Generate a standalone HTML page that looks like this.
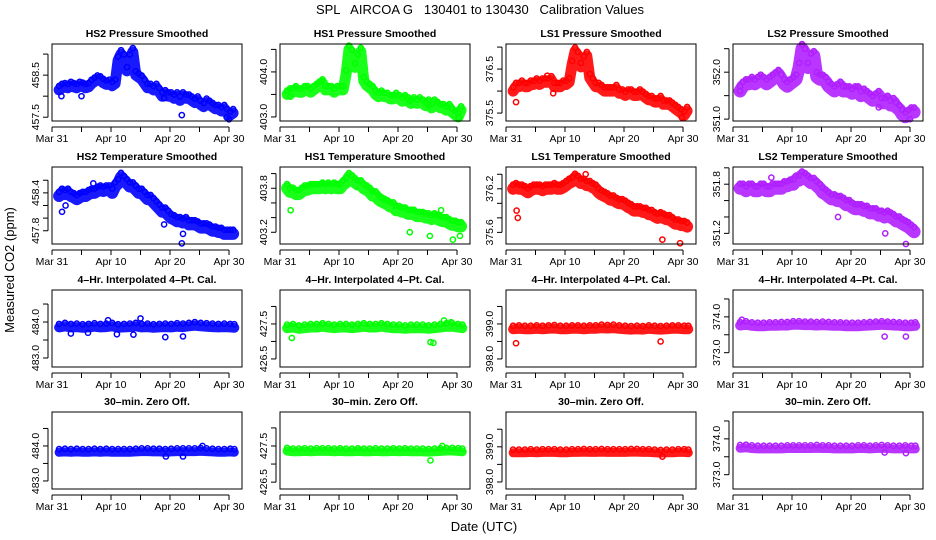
<!DOCTYPE html>
<html><head><meta charset="utf-8">
<style>
html,body{margin:0;padding:0;background:#fff;}
svg{display:block;font-family:"Liberation Sans",sans-serif;}
.pre{white-space:pre;}
</style></head>
<body>
<svg id="chart" width="936" height="540" viewBox="0 0 936 540" xmlns="http://www.w3.org/2000/svg">
<text class="pre" x="480" y="14" font-size="13" text-anchor="middle" xml:space="preserve">SPL   AIRCOA G   130401 to 130430   Calibration Values</text>
<text transform="translate(14,270) rotate(-90)" font-size="13" text-anchor="middle">Measured CO2 (ppm)</text>
<text x="484" y="531" font-size="13" text-anchor="middle">Date (UTC)</text>
</svg>
<script>
// ---- data ----
const days60 = [];
for (let i = 0; i < 60; i++) days60.push(1.2 + i * 0.5);
const days31 = [1.2,2.2,3.2,4.2,5.2,6.2,7.2,8.2,9.2,10.2,11.2,12.2,13.2,14.2,15.2,16.2,17.2,18.2,19.2,20.2,21.2,22.2,23.2,24.2,25.2,26.2,27.2,28.2,29.2,30.2,30.9];
const xTickDays = [0,5,10,15,20,25,30];
const xLabelDays = [0,10,20,30];
const xLabels = ["Mar 31","Apr 10","Apr 20","Apr 30"];

const hs2Pressure = [458.15,458.2,458.22,458.2,458.25,458.22,458.2,458.25,458.23,458.2,458.22,458.3,458.35,458.4,458.38,458.32,458.28,458.3,458.25,458.3,458.85,459.0,458.9,458.6,458.9,459.05,458.5,458.45,458.4,458.3,458.2,458.2,458.15,458.2,458.1,458.0,458.05,458.0,458.0,457.95,458.0,457.9,458.0,457.95,457.95,457.9,457.85,457.9,457.8,457.75,457.85,457.8,457.75,457.7,457.7,457.65,457.7,457.6,457.55,457.6];
const hs1Pressure = [403.5,403.55,403.55,403.6,403.55,403.55,403.6,403.6,403.55,403.6,403.65,403.7,403.75,403.6,403.6,403.6,403.55,403.6,403.6,403.6,403.95,404.5,404.4,404.1,404.3,404.45,403.8,403.7,403.65,403.6,403.5,403.45,403.5,403.45,403.45,403.4,403.4,403.45,403.4,403.35,403.4,403.35,403.3,403.35,403.3,403.35,403.3,403.25,403.3,403.2,403.3,403.25,403.2,403.2,403.15,403.2,403.1,403.05,403.0,403.15];
const ls1Pressure = [376.0,376.1,376.1,376.15,376.1,376.1,376.15,376.15,376.2,376.15,376.2,376.2,376.2,376.25,376.1,376.1,376.1,376.15,376.15,376.2,376.6,376.9,376.8,376.55,376.7,376.8,376.3,376.2,376.1,376.1,376.05,376.0,376.0,376.0,376.0,376.05,375.95,375.95,375.9,375.95,375.95,375.9,375.9,375.95,375.9,375.85,375.8,375.8,375.75,375.75,375.8,375.7,375.7,375.7,375.65,375.6,375.55,375.5,375.45,375.55];
const ls2Pressure = [351.6,351.7,351.75,351.75,351.8,351.75,351.8,351.85,351.8,351.75,351.8,351.85,351.9,351.95,351.85,351.75,351.7,351.75,351.8,351.85,352.1,352.5,352.4,352.1,352.3,352.35,351.9,351.85,351.85,351.8,351.7,351.65,351.6,351.65,351.7,351.6,351.6,351.6,351.55,351.6,351.6,351.5,351.55,351.5,351.45,351.4,351.45,351.5,351.35,351.35,351.4,351.3,351.35,351.25,351.2,351.1,351.05,351.1,351.15,351.15];
const hs2Temp = [458.35,458.4,458.38,458.4,458.35,458.33,458.3,458.33,458.35,458.35,458.38,458.4,458.4,458.43,458.45,458.43,458.45,458.45,458.4,458.5,458.55,458.65,458.6,458.55,458.5,458.5,458.45,458.4,458.4,458.35,458.3,458.3,458.25,458.2,458.15,458.1,458.1,458.05,458.0,457.98,457.95,457.95,457.93,457.95,457.9,457.9,457.9,457.88,457.85,457.85,457.85,457.83,457.8,457.8,457.78,457.78,457.75,457.75,457.75,457.75];
const hs1Temp = [403.8,403.75,403.75,403.72,403.72,403.75,403.78,403.78,403.8,403.8,403.8,403.8,403.82,403.8,403.82,403.8,403.82,403.8,403.8,403.85,403.88,403.95,403.92,403.88,403.85,403.85,403.8,403.78,403.75,403.7,403.7,403.65,403.62,403.6,403.58,403.55,403.55,403.5,403.5,403.48,403.48,403.45,403.45,403.45,403.42,403.42,403.42,403.4,403.4,403.38,403.4,403.38,403.36,403.35,403.35,403.32,403.3,403.3,403.28,403.28];
const ls1Temp = [376.2,376.22,376.2,376.2,376.18,376.15,376.18,376.2,376.2,376.2,376.18,376.2,376.2,376.2,376.22,376.2,376.2,376.22,376.25,376.28,376.3,376.35,376.32,376.28,376.28,376.25,376.25,376.22,376.2,376.15,376.12,376.1,376.08,376.05,376.05,376.02,376.0,376.0,375.98,375.95,375.93,375.9,375.9,375.9,375.88,375.88,375.85,375.85,375.82,375.8,375.82,375.8,375.78,375.78,375.75,375.72,375.72,375.7,375.7,375.68];
const ls2Temp = [351.75,351.75,351.72,351.75,351.75,351.72,351.72,351.75,351.75,351.72,351.72,351.75,351.75,351.75,351.75,351.78,351.78,351.8,351.8,351.85,351.85,351.9,351.88,351.85,351.82,351.82,351.78,351.75,351.7,351.68,351.65,351.62,351.62,351.6,351.6,351.58,351.55,351.55,351.52,351.5,351.5,351.5,351.48,351.48,351.45,351.45,351.45,351.42,351.42,351.4,351.42,351.4,351.38,351.35,351.35,351.32,351.3,351.28,351.25,351.22];

const hs2Interp = [483.85,483.88,483.85,483.86,483.84,483.85,483.87,483.85,483.86,483.88,483.84,483.85,483.86,483.88,483.85,483.86,483.84,483.85,483.86,483.85,483.87,483.86,483.88,483.9,483.88,483.87,483.86,483.85,483.86,483.85,483.84];
const hs1Interp = [427.38,427.4,427.36,427.38,427.4,427.4,427.42,427.4,427.38,427.4,427.4,427.38,427.4,427.42,427.4,427.4,427.42,427.4,427.38,427.38,427.36,427.38,427.38,427.38,427.36,427.38,427.4,427.42,427.42,427.4,427.38];
const ls1Interp = [398.85,398.86,398.85,398.85,398.86,398.85,398.86,398.87,398.85,398.85,398.86,398.86,398.85,398.86,398.86,398.88,398.87,398.88,398.86,398.85,398.84,398.85,398.84,398.86,398.85,398.84,398.85,398.86,398.86,398.85,398.85];
const ls2Interp = [373.76,373.78,373.75,373.74,373.74,373.75,373.75,373.76,373.76,373.78,373.78,373.77,373.77,373.76,373.77,373.76,373.75,373.75,373.74,373.74,373.74,373.75,373.76,373.77,373.78,373.77,373.76,373.75,373.74,373.74,373.75];
const hs2Zero = [483.82,483.83,483.82,483.83,483.82,483.82,483.83,483.82,483.83,483.82,483.82,483.82,483.82,483.83,483.84,483.84,483.83,483.83,483.82,483.83,483.84,483.84,483.84,483.84,483.85,483.84,483.83,483.82,483.82,483.83,483.82];
const hs1Zero = [427.36,427.34,427.34,427.35,427.34,427.35,427.35,427.35,427.34,427.35,427.34,427.34,427.35,427.34,427.34,427.35,427.34,427.34,427.35,427.34,427.35,427.34,427.34,427.34,427.33,427.34,427.35,427.36,427.36,427.35,427.34];
const ls1Zero = [398.83,398.83,398.83,398.84,398.83,398.84,398.84,398.84,398.83,398.83,398.84,398.84,398.85,398.84,398.84,398.85,398.84,398.84,398.84,398.84,398.85,398.85,398.84,398.84,398.83,398.82,398.83,398.83,398.84,398.84,398.83];
const ls2Zero = [373.74,373.75,373.73,373.72,373.72,373.72,373.72,373.72,373.73,373.73,373.73,373.73,373.73,373.74,373.73,373.73,373.72,373.72,373.72,373.72,373.73,373.73,373.72,373.73,373.74,373.73,373.72,373.72,373.73,373.72,373.72];

// outliers: [day, value] pairs
const outHs2P = [[1.6,458.0],[5,458.0],[19,457.95],[22,457.55],[30,457.45],[29.6,457.5]];
const outHs1P = [[1.8,403.45],[7,403.8],[22,403.35],[25.3,403.25],[30.3,402.98]];
const outLs1P = [[1.7,375.75],[7,376.35],[8,375.95],[29.8,375.4]];
const outLs2P = [[1.2,351.6],[24.7,351.25],[30,351.0]];
const outHs2T = [[1.7,458.1],[2.3,458.2],[19,457.9],[22,457.6],[22.2,457.75],[7,458.55]];
const outHs1T = [[1.8,403.5],[22,403.2],[25.4,403.15],[27.3,403.5],[29.3,403.1],[30.5,403.15]];
const outLs1T = [[1.8,375.9],[2,375.8],[13.5,376.4],[26.5,375.5],[29.5,375.45]];
const outLs2T = [[17.8,351.4],[25.8,351.2],[29.3,351.07],[6.5,351.88]];
const outHs2I = [[3.2,483.68],[6.1,483.7],[11,483.66],[13.8,483.65],[19.2,483.58],[22.2,483.6],[15,484.1],[9.5,484.05]];
const outHs1I = [[2,427.1],[25.5,426.98],[26,426.96],[27.8,427.6],[29,427.55]];
const outLs1I = [[1.7,398.45],[26.2,398.5]];
const outLs2I = [[1.5,373.92],[25.7,373.45],[29.3,373.45]];
const outHs2Z = [[25.5,484.0],[19.3,483.7],[22.2,483.7]];
const outHs1Z = [[25.5,427.1],[27.5,427.5]];
const outLs1Z = [[26.5,398.72]];
const outLs2Z = [[25.7,373.62],[29.3,373.6]];

// ---- layout ----
const colLeft = [52, 280, 506, 733];
const rowTop = [44, 167, 290, 412];
const W = 190, H = 77;
const XMAX = 32.2;
const BLUE = "#0000ff", GREEN = "#00ff00", RED = "#ff0000", PURP = "#b020ff";

const panels = [
 {r:0,c:0,title:"HS2 Pressure Smoothed",ys:hs2Pressure,xs:days60,out:outHs2P,col:BLUE,ymin:457.41,ymax:459.24,ticks:[457.5,458,458.5,459],labels:["457.5",null,"458.5",null],band:11},
 {r:0,c:1,title:"HS1 Pressure Smoothed",ys:hs1Pressure,xs:days60,out:outHs1P,col:GREEN,ymin:402.91,ymax:404.62,ticks:[403,403.5,404,404.5],labels:["403.0",null,"404.0",null],band:11},
 {r:0,c:2,title:"LS1 Pressure Smoothed",ys:ls1Pressure,xs:days60,out:outLs1P,col:RED,ymin:375.32,ymax:377.07,ticks:[375.5,376,376.5,377],labels:["375.5",null,"376.5",null],band:11},
 {r:0,c:3,title:"LS2 Pressure Smoothed",ys:ls2Pressure,xs:days60,out:outLs2P,col:PURP,ymin:350.96,ymax:352.6,ticks:[351,351.5,352,352.5],labels:["351.0",null,"352.0",null],band:13},
 {r:1,c:0,title:"HS2 Temperature Smoothed",ys:hs2Temp,xs:days60,out:outHs2T,col:BLUE,ymin:457.59,ymax:458.81,ticks:[457.8,458,458.2,458.4,458.6],labels:["457.8",null,null,"458.4",null],band:12},
 {r:1,c:1,title:"HS1 Temperature Smoothed",ys:hs1Temp,xs:days60,out:outHs1T,col:GREEN,ymin:403.04,ymax:404.09,ticks:[403.2,403.4,403.6,403.8,404.0],labels:["403.2",null,null,"403.8",null],band:12},
 {r:1,c:2,title:"LS1 Temperature Smoothed",ys:ls1Temp,xs:days60,out:outLs1T,col:RED,ymin:375.44,ymax:376.5,ticks:[375.6,375.8,376,376.2,376.4],labels:["375.6",null,null,"376.2",null],band:12},
 {r:1,c:3,title:"LS2 Temperature Smoothed",ys:ls2Temp,xs:days60,out:outLs2T,col:PURP,ymin:351.07,ymax:352.01,ticks:[351.2,351.4,351.6,351.8,352.0],labels:["351.2",null,null,"351.8",null],band:13},
 {r:2,c:0,title:"4\u2013Hr. Interpolated 4\u2013Pt. Cal.",ys:hs2Interp,xs:days31,out:outHs2I,col:BLUE,ymin:482.75,ymax:484.89,ticks:[483,483.5,484,484.5],labels:["483.0",null,"484.0",null],band:10},
 {r:2,c:1,title:"4\u2013Hr. Interpolated 4\u2013Pt. Cal.",ys:hs1Interp,xs:days31,out:outHs1I,col:GREEN,ymin:426.27,ymax:428.47,ticks:[426.5,427,427.5,428],labels:["426.5",null,"427.5",null],band:10},
 {r:2,c:2,title:"4\u2013Hr. Interpolated 4\u2013Pt. Cal.",ys:ls1Interp,xs:days31,out:outLs1I,col:RED,ymin:397.77,ymax:399.97,ticks:[398,398.5,399,399.5],labels:["398.0",null,"399.0",null],band:10},
 {r:2,c:3,title:"4\u2013Hr. Interpolated 4\u2013Pt. Cal.",ys:ls2Interp,xs:days31,out:outLs2I,col:PURP,ymin:372.6,ymax:374.75,ticks:[373,373.5,374,374.5],labels:["373.0",null,"374.0",null],band:10},
 {r:3,c:0,title:"30\u2013min. Zero Off.",ys:hs2Zero,xs:days31,out:outHs2Z,col:BLUE,ymin:482.77,ymax:484.97,ticks:[483,483.5,484,484.5],labels:["483.0",null,"484.0",null],band:9},
 {r:3,c:1,title:"30\u2013min. Zero Off.",ys:hs1Zero,xs:days31,out:outHs1Z,col:GREEN,ymin:426.31,ymax:428.44,ticks:[426.5,427,427.5,428],labels:["426.5",null,"427.5",null],band:9},
 {r:3,c:2,title:"30\u2013min. Zero Off.",ys:ls1Zero,xs:days31,out:outLs1Z,col:RED,ymin:397.8,ymax:399.99,ticks:[398,398.5,399,399.5],labels:["398.0",null,"399.0",null],band:9},
 {r:3,c:3,title:"30\u2013min. Zero Off.",ys:ls2Zero,xs:days31,out:outLs2Z,col:PURP,ymin:372.6,ymax:374.75,ticks:[373,373.5,374,374.5],labels:["373.0",null,"374.0",null],band:9}
];

const NS = "http://www.w3.org/2000/svg";
const svg = document.getElementById("chart");
function mk(tag, attrs, parent) {
  const e = document.createElementNS(NS, tag);
  for (const k in attrs) e.setAttribute(k, attrs[k]);
  (parent || svg).appendChild(e);
  return e;
}

panels.forEach(function (p, idx) {
  const L = colLeft[p.c], T = rowTop[p.r];
  const xs = function (d) { return L + d / XMAX * W; };
  const ys = function (v) { return T + H - (v - p.ymin) / (p.ymax - p.ymin) * H; };
  const g = mk("g", {});
  
  

  const title = mk("text", {x: L + W / 2, y: T - 7, "font-size": 10.5, "font-weight": "bold", "text-anchor": "middle"}, g);
  title.textContent = p.title;
  
  

  const cg = mk("g", {}, g);
  
  
  let pts = p.xs.map(function (d, i) { return xs(d).toFixed(1) + "," + ys(p.ys[i]).toFixed(1); }).join(" ");
  const band = mk("polyline", {points: pts, fill: "none", stroke: p.col, "stroke-width": p.band, "stroke-linejoin": "round", "stroke-linecap": "round", opacity: 0.9}, cg);
  
  
  p.xs.forEach(function (d, i) {
    const c = mk("circle", {cx: xs(d), cy: ys(p.ys[i]) - p.band * 0.35, r: 2.6, fill: "none", stroke: p.col, "stroke-width": 1.5}, cg);
    
    
  });
  p.out.forEach(function (o) {
    const c = mk("circle", {cx: xs(o[0]), cy: ys(o[1]), r: 2.6, fill: "none", stroke: p.col, "stroke-width": 1.5}, cg);
    
    
  });

  const box = mk("rect", {x: L, y: T, width: W, height: H, fill: "none", stroke: "#000", "stroke-width": 1}, g);
  
  

  const ya = mk("g", {}, g);
  
  
  const y0 = ys(p.ticks[0]), y1 = ys(p.ticks[p.ticks.length - 1]);
  mk("line", {x1: L - 4, x2: L - 4, y1: y0, y2: y1, stroke: "#000"}, ya);
  p.ticks.forEach(function (t, i) {
    const yy = ys(t);
    mk("line", {x1: L - 9, x2: L - 4, y1: yy, y2: yy, stroke: "#000"}, ya);
    if (p.labels[i]) {
      const tl = mk("text", {transform: "translate(" + (L - 13) + "," + yy + ") rotate(-90)", "font-size": 10.5, "text-anchor": "middle"}, ya);
      tl.textContent = p.labels[i];
      
      
    }
  });

  const xa = mk("g", {}, g);
  
  
  const B = T + H;
  mk("line", {x1: xs(xTickDays[0]), x2: xs(xTickDays[xTickDays.length - 1]), y1: B + 6, y2: B + 6, stroke: "#000"}, xa);
  xTickDays.forEach(function (d) {
    mk("line", {x1: xs(d), x2: xs(d), y1: B + 6, y2: B + 11, stroke: "#000"}, xa);
  });
  xLabelDays.forEach(function (d, i) {
    const tl = mk("text", {x: xs(d), y: B + 21, "font-size": 10.5, "text-anchor": "middle"}, xa);
    tl.textContent = xLabels[i];
    
    
  });
});
</script>
</body></html>
